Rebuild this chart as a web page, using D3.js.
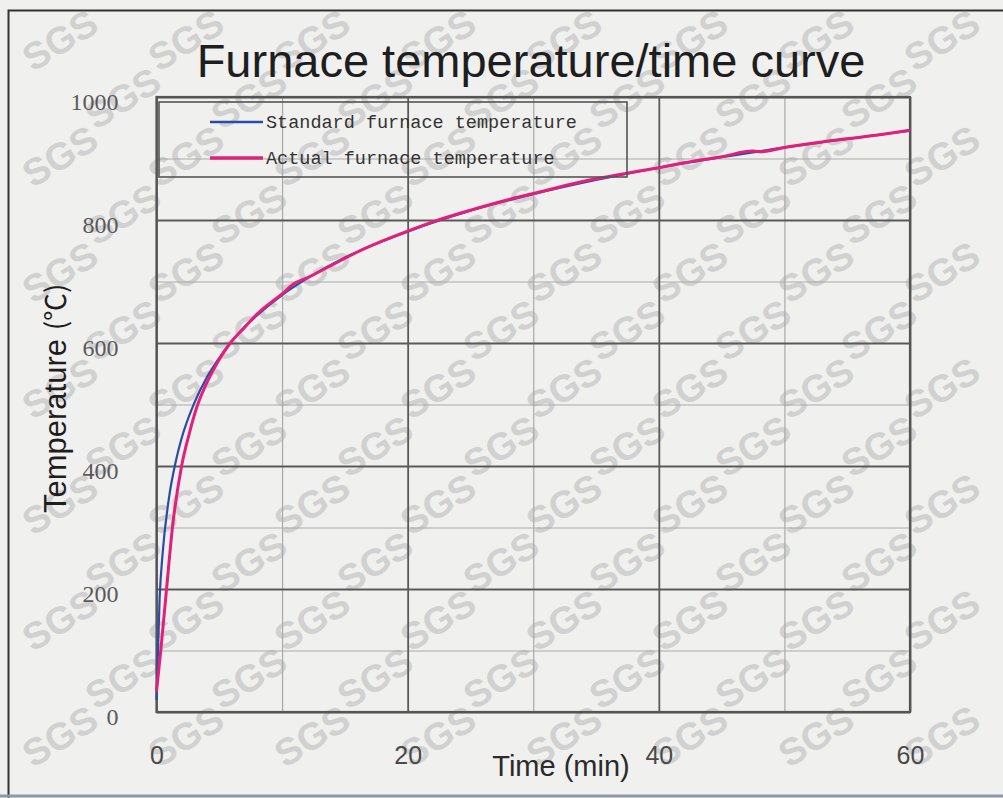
<!DOCTYPE html>
<html>
<head>
<meta charset="utf-8">
<script src="https://cdn.jsdelivr.net/npm/d3@7"></script>
<style>
  html, body { margin: 0; padding: 0; background: #f0f0ef; }
  svg { display: block; }
</style>
</head>
<body>
<div id="chart"></div>
<script>
// furnace temperature / time curve
var stdTime = [0, 0.25, 0.5, 1, 1.5, 2, 3, 4, 5, 6, 7, 8, 10, 12, 15, 20, 25, 30, 35, 40, 45, 50, 55, 60];
var stdTemp = [20, 186, 261, 349, 404, 445, 502, 544, 576, 603, 626, 645, 678, 705, 739, 781, 815, 842, 865, 885, 902, 918, 932, 945];

var actTime = [0, 0.34, 0.8, 1.27, 2, 2.6, 3.2, 4, 4.9, 5.8, 7, 8, 9, 10, 11, 12, 14, 16, 18, 20, 22, 25, 28, 30, 33, 35, 38, 40, 42, 45, 47.5, 48.2, 50, 53, 55, 58, 60];
var actTemp = [33, 100, 200, 300, 400, 452, 495, 535, 570, 598, 625, 647, 664, 680, 697, 706, 727, 748, 766, 782, 797, 816, 833, 843, 858, 867, 878, 885, 893, 903, 912, 911, 918, 927, 932, 940, 946];

var xTicks = [0, 20, 40, 60];
var xMinor = [10, 30, 50];
var yTicks = [0, 200, 400, 600, 800, 1000];
var yMinor = [100, 300, 500, 700, 900];

var seriesNames = ['Standard furnace temperature', 'Actual furnace temperature'];
var seriesColors = ['#2b4ba6', '#e2207c'];

var W = 1003, H = 798;
var margin = {left: 156.5, right: 93, top: 97, bottom: 86};
var innerW = W - margin.left - margin.right,
    innerH = H - margin.top - margin.bottom;

var svg = d3.select('#chart').append('svg')
  .attr('width', W)
  .attr('height', H);

svg.append('rect').attr('width', W).attr('height', H).attr('fill', '#f0f0ef');

// SGS watermark tiling, kept inside the page
var wm = svg.append('g').attr('class', 'watermark');
for (var r = 0; r < 14; r++) {
  for (var c = -1; c < 9; c++) {
    var wx = c * 126 + (r % 2) * 63 + 60,
        wy = r * 58 + 40;
    if (wx < 42 || wx > W - 42 || wy > H - 30) continue;
    wm.append('text')
      .attr('transform', 'translate(' + wx + ',' + wy + ') rotate(-32)')
      .attr('text-anchor', 'middle')
      .attr('dy', '0.35em')
      .style('font-family', 'Arial, "Liberation Sans", sans-serif')
      .style('font-weight', 'bold')
      .style('font-size', '38px')
      .style('fill', '#cacaca')
      .style('opacity', 0.8)
      .text('SGS');
  }
}

// outer frame
svg.append('path')
  .attr('d', 'M8.5,' + (H + 2) + 'V10.5H' + (W + 2))
  .attr('fill', 'none').attr('stroke', '#333').attr('stroke-width', 2);
svg.append('line')
  .attr('x1', 0).attr('x2', W).attr('y1', 796).attr('y2', 796)
  .attr('stroke', '#8d9aa6').attr('stroke-width', 3);

var g = svg.append('g').attr('transform', 'translate(' + margin.left + ',' + margin.top + ')');

var x = d3.scaleLinear().domain([0, 60]).range([0, innerW]);
var y = d3.scaleLinear().domain([0, 1000]).range([innerH, 0]);

// grid: minor then major
g.append('g').attr('class', 'grid-minor-x')
  .attr('transform', 'translate(0,' + innerH + ')')
  .call(d3.axisBottom(x).tickValues(xMinor).tickSize(-innerH).tickFormat(''));
g.append('g').attr('class', 'grid-minor-y')
  .call(d3.axisLeft(y).tickValues(yMinor).tickSize(-innerW).tickFormat(''));
g.append('g').attr('class', 'grid-major-x')
  .attr('transform', 'translate(0,' + innerH + ')')
  .call(d3.axisBottom(x).tickValues(xTicks).tickSize(-innerH).tickFormat(''));
g.append('g').attr('class', 'grid-major-y')
  .call(d3.axisLeft(y).tickValues(yTicks).tickSize(-innerW).tickFormat(''));

g.selectAll('.grid-minor-x, .grid-minor-y').selectAll('line')
  .attr('stroke', '#a9a9a9').attr('stroke-width', 1.2);
g.selectAll('.grid-major-x, .grid-major-y').selectAll('line')
  .attr('stroke', '#5a5a5a').attr('stroke-width', 1.8);
g.selectAll('.grid-minor-x, .grid-minor-y, .grid-major-x, .grid-major-y')
  .select('.domain').remove();

g.append('rect')
  .attr('width', innerW).attr('height', innerH)
  .attr('fill', 'none').attr('stroke', '#555').attr('stroke-width', 2.2);

// tick labels
var xAxis = g.append('g').attr('class', 'x-axis')
  .attr('transform', 'translate(0,' + innerH + ')')
  .call(d3.axisBottom(x).tickValues(xTicks).tickSize(0).tickPadding(34).tickFormat(d3.format('d')));
xAxis.select('.domain').remove();
xAxis.selectAll('text')
  .style('font-family', 'Arial, "Liberation Sans", sans-serif')
  .style('font-size', '25px')
  .style('fill', '#4a4a4a');

var yAxis = g.append('g').attr('class', 'y-axis')
  .call(d3.axisLeft(y).tickValues(yTicks).tickSize(0).tickPadding(38).tickFormat(d3.format('d')));
yAxis.select('.domain').remove();
yAxis.selectAll('text')
  .attr('dy', '0.5em')
  .style('font-family', '"Liberation Serif", "DejaVu Serif", serif')
  .style('font-size', '24px')
  .style('fill', '#5a5a5a');

// curves
var line = d3.line()
  .x(function(d) { return x(d[0]); })
  .y(function(d) { return y(d[1]); })
  .curve(d3.curveMonotoneX);

var stdData = stdTime.map(function(t, i) { return [t, stdTemp[i]]; });
var actData = actTime.map(function(t, i) { return [t, actTemp[i]]; });

g.append('path').datum(stdData)
  .attr('d', line)
  .attr('fill', 'none').attr('stroke', seriesColors[0]).attr('stroke-width', 2.2);
g.append('path').datum(actData)
  .attr('d', line)
  .attr('fill', 'none').attr('stroke', seriesColors[1]).attr('stroke-width', 3)
  .attr('stroke-linejoin', 'round');

// legend
var legend = svg.append('g').attr('class', 'legend');
legend.append('rect')
  .attr('x', 159).attr('y', 102).attr('width', 468).attr('height', 75)
  .attr('fill', 'none').attr('stroke', '#555').attr('stroke-width', 1.6);
seriesNames.forEach(function(name, i) {
  var ly = 122 + i * 36;
  legend.append('line')
    .attr('x1', 210).attr('x2', 263).attr('y1', ly).attr('y2', ly)
    .attr('stroke', seriesColors[i]).attr('stroke-width', i ? 3.5 : 2.5);
  legend.append('text')
    .attr('x', 266).attr('y', ly + 6)
    .style('font-family', '"Liberation Mono", "DejaVu Sans Mono", monospace')
    .style('font-size', '18.5px')
    .style('fill', '#333')
    .text(name);
});

// title and axis labels
svg.append('text')
  .attr('x', 531).attr('y', 77)
  .attr('text-anchor', 'middle')
  .style('font-family', 'Arial, "Liberation Sans", sans-serif')
  .style('font-size', '47px')
  .style('fill', '#1e1e1e')
  .text('Furnace temperature/time curve');

svg.append('text')
  .attr('x', 561).attr('y', 776)
  .attr('text-anchor', 'middle')
  .style('font-family', 'Arial, "Liberation Sans", sans-serif')
  .style('font-size', '29px')
  .style('fill', '#2a2a2a')
  .text('Time (min)');

var yLabel = svg.append('text')
  .attr('transform', 'translate(66,513) rotate(-90)')
  .attr('text-anchor', 'start')
  .style('font-family', 'Arial, "Liberation Sans", sans-serif')
  .style('font-size', '31px')
  .style('fill', '#1e1e1e');
yLabel.append('tspan').text('Temperature ');
yLabel.append('tspan')
  .style('font-family', '"Noto Sans CJK SC", sans-serif')
  .style('font-size', '28px')
  .text('(℃)');
</script>
</body>
</html>
